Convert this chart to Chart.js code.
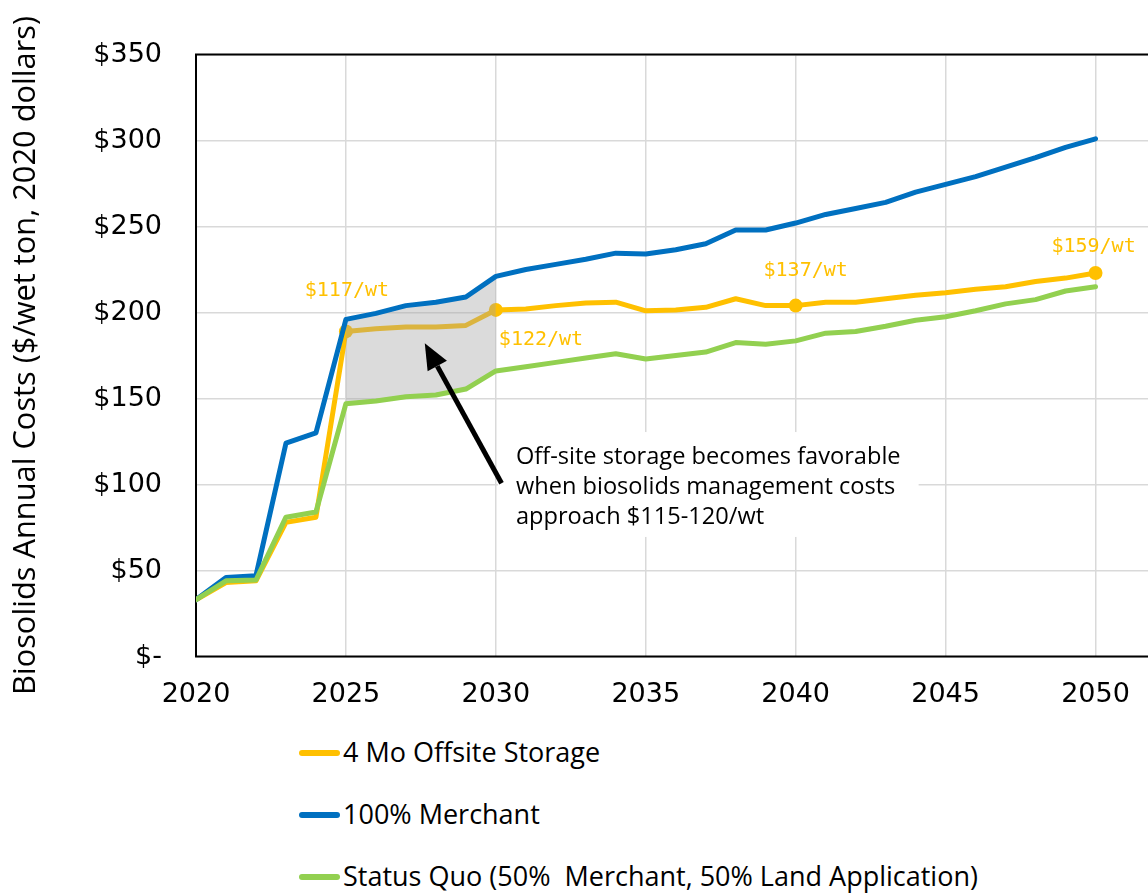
<!DOCTYPE html>
<html>
<head>
<meta charset="utf-8">
<script src="https://cdn.jsdelivr.net/npm/chart.js@4.4.1/dist/chart.umd.min.js"></script>
<style>
    html, body { margin: 0; padding: 0; background: #fff; overflow: hidden; }
    #wrap { position: relative; width: 1148px; height: 893px; overflow: hidden; }
    #grafico { position: absolute; left: 0; top: 0; }
    .leyenda { position: absolute; left: 299px; font-family: "Open Sans", sans-serif; font-size: 27px; color: #000; white-space: pre; }
    .leyenda span { display: inline-block; width: 41px; height: 6px; border-radius: 3px; vertical-align: middle; margin-right: 3px; position: relative; top: -2px; }
</style>
</head>
<body>
<div id="wrap">
    <canvas id="grafico" width="1148" height="720"></canvas>
    <div class="leyenda" style="top:733px"><span style="background:#FFC000"></span>4 Mo Offsite Storage</div>
    <div class="leyenda" style="top:795px"><span style="background:#0070C0"></span>100% Merchant</div>
    <div class="leyenda" style="top:857px"><span style="background:#92D050"></span>Status Quo (50%  Merchant, 50% Land Application)</div>
</div>
<script>
// años y costes anuales ($/wet ton)
const anios = [2020, 2021, 2022, 2023, 2024, 2025, 2026, 2027, 2028, 2029, 2030,
    2031, 2032, 2033, 2034, 2035, 2036, 2037, 2038, 2039, 2040,
    2041, 2042, 2043, 2044, 2045, 2046, 2047, 2048, 2049, 2050];
const almacenaje = [33, 43, 44, 78, 81, 189, 190.5, 191.5, 191.5, 192.5, 201.5,
    202, 204, 205.5, 206, 201, 201.5, 203, 208, 204, 204,
    206, 206, 208, 210, 211.5, 213.5, 215, 218, 220, 223];
const merchant = [33, 46, 47, 124, 130, 196, 199.5, 204, 206, 209, 221,
    225, 228, 231, 234.5, 234, 236.5, 240, 248, 248, 252,
    257, 260.5, 264, 270, 274.5, 279, 284.5, 290, 296, 301];
const statusQuo = [33, 44, 44.5, 81, 84, 147, 148.5, 151, 152, 155.5, 166,
    168.5, 171, 173.5, 176, 173, 175, 177, 182.5, 181.5, 183.5,
    188, 189, 192, 195.5, 197.5, 201, 205, 207.5, 212.5, 215];

// puntos marcados en la serie de almacenaje
const aniosMarca = [2025, 2030, 2040, 2050];
const textosMarca = ['$117/wt', '$122/wt', '$137/wt', '$159/wt'];
// desplazamiento del texto respecto al punto [dx, dy, alineado]
const despMarca = [[1, -35, 'center'], [3, 35, 'left'], [10, -30, 'center'], [-2, -21, 'center']];

const notaLineas = ['Off-site storage becomes favorable', 'when biosolids management costs', 'approach $115-120/wt'];
const tituloY = 'Biosolids Annual Costs ($/wet ton, 2020 dollars)';

// zona sombreada entre merchant y status quo
const zonaDesde = 2025, zonaHasta = 2030;

function puntos(valores) {
    return anios.map((a, i) => ({ x: a, y: valores[i] }));
}
function puntosZona(valores) {
    return puntos(valores).filter(p => p.x >= zonaDesde && p.x <= zonaHasta);
}

const NARANJA = '#FFC000', AZUL = '#0070C0', VERDE = '#92D050';

//MARCO Y ANOTACIONES
const marco = {
    id: 'marco',
    beforeDatasetsDraw(chart) {
        const { ctx, chartArea: a } = chart;
        ctx.save();
        ctx.strokeStyle = '#000';
        ctx.lineWidth = 2;
        ctx.beginPath();
        ctx.moveTo(a.right, a.top);
        ctx.lineTo(a.left, a.top);
        ctx.lineTo(a.left, a.bottom);
        ctx.lineTo(a.right, a.bottom);
        ctx.stroke();
        ctx.restore();

        // titulo del eje y
        ctx.save();
        ctx.translate(26, (a.top + a.bottom) / 2);
        ctx.rotate(-Math.PI / 2);
        ctx.font = '30.8px "Open Sans"';
        ctx.fillStyle = '#000';
        ctx.textAlign = 'center';
        ctx.textBaseline = 'middle';
        ctx.fillText(tituloY, 0, 0);
        ctx.restore();
    },
    afterDatasetsDraw(chart) {
        const { ctx } = chart;
        const x = chart.scales.x, y = chart.scales.y;

        // caja blanca de la nota
        const bx0 = x.getPixelForValue(2030.07), bx1 = x.getPixelForValue(2044.1);
        const by0 = y.getPixelForValue(130.5), by1 = y.getPixelForValue(69.5);
        ctx.save();
        ctx.fillStyle = '#fff';
        ctx.fillRect(bx0, by0, bx1 - bx0, by1 - by0);
        ctx.font = '23.6px "Open Sans"';
        ctx.fillStyle = '#000';
        ctx.textAlign = 'left';
        ctx.textBaseline = 'alphabetic';
        notaLineas.forEach((t, i) => ctx.fillText(t, bx0 + 18, by0 + 32 + i * 30));

        // flecha
        const x0 = x.getPixelForValue(2030.19), y0 = y.getPixelForValue(100.7);
        const x1 = x.getPixelForValue(2027.63), y1 = y.getPixelForValue(182.1);
        const ang = Math.atan2(y1 - y0, x1 - x0);
        const largo = 26, ancho = 11;
        const bxh = x1 - largo * Math.cos(ang), byh = y1 - largo * Math.sin(ang);
        ctx.strokeStyle = '#000';
        ctx.lineWidth = 5;
        ctx.beginPath();
        ctx.moveTo(x0, y0);
        ctx.lineTo(bxh, byh);
        ctx.stroke();
        ctx.beginPath();
        ctx.moveTo(x1, y1);
        ctx.lineTo(bxh + ancho * Math.sin(ang), byh - ancho * Math.cos(ang));
        ctx.lineTo(bxh - ancho * Math.sin(ang), byh + ancho * Math.cos(ang));
        ctx.closePath();
        ctx.fillStyle = '#000';
        ctx.fill();

        // etiquetas de los puntos
        ctx.font = '20px "DejaVu Sans Mono"';
        ctx.fillStyle = NARANJA;
        aniosMarca.forEach((a, i) => {
            const v = almacenaje[anios.indexOf(a)];
            const d = despMarca[i];
            ctx.textAlign = d[2];
            ctx.fillText(textosMarca[i], x.getPixelForValue(a) + d[0], y.getPixelForValue(v) + d[1]);
        });
        ctx.restore();
    }
};

const config = {
    type: 'line',
    data: {
        datasets: [
            {
                label: '4 Mo Offsite Storage',
                data: puntos(almacenaje),
                borderColor: NARANJA,
                backgroundColor: NARANJA,
                borderWidth: 5,
                pointRadius: c => aniosMarca.includes(c.raw && c.raw.x) ? 7 : 0,
                pointBorderWidth: 0,
                order: 4
            },
            {
                label: 'zona',
                data: puntosZona(merchant),
                borderWidth: 0,
                pointRadius: 0,
                fill: '+1',
                backgroundColor: 'rgba(161,161,161,0.39)',
                order: 3
            },
            {
                label: 'zonaBase',
                data: puntosZona(statusQuo),
                borderWidth: 0,
                pointRadius: 0,
                fill: false,
                order: 3
            },
            {
                label: '100% Merchant',
                data: puntos(merchant),
                borderColor: AZUL,
                borderWidth: 5,
                pointRadius: 0,
                order: 2
            },
            {
                label: 'Status Quo (50%  Merchant, 50% Land Application)',
                data: puntos(statusQuo),
                borderColor: VERDE,
                borderWidth: 5,
                pointRadius: 0,
                order: 1
            }
        ]
    },
    options: {
        responsive: false,
        animation: false,
        layout: { autoPadding: false, padding: { top: 54.5, left: 0, right: 0, bottom: 0 } },
        elements: { line: { tension: 0, borderCapStyle: 'round', borderJoinStyle: 'round' } },
        plugins: { legend: { display: false }, tooltip: { enabled: false } },
        scales: {
            x: {
                type: 'linear',
                min: 2020,
                max: 2051.75,
                afterFit: s => { s.height = 63.5; s.paddingLeft = 0; s.paddingRight = 0; },
                grid: { color: '#d9d9d9', lineWidth: 1.5, drawTicks: false },
                border: { display: false },
                ticks: {
                    stepSize: 5,
                    includeBounds: false,
                    padding: 22,
                    color: '#000',
                    font: { family: 'DejaVu Sans', size: 27 },
                    callback: v => String(v)
                }
            },
            y: {
                min: 0,
                max: 350,
                afterFit: s => { s.width = 196; s.paddingTop = 0; s.paddingBottom = 0; },
                grid: { color: '#d9d9d9', lineWidth: 1.5, drawTicks: false },
                border: { display: false },
                ticks: {
                    stepSize: 50,
                    padding: 34,
                    color: '#000',
                    font: { family: 'DejaVu Sans', size: 27 },
                    callback: v => v === 0 ? '$-' : '$' + v
                }
            }
        }
    },
    plugins: [marco]
};

const miGrafico = new Chart(document.getElementById('grafico'), config);
</script>
</body>
</html>
